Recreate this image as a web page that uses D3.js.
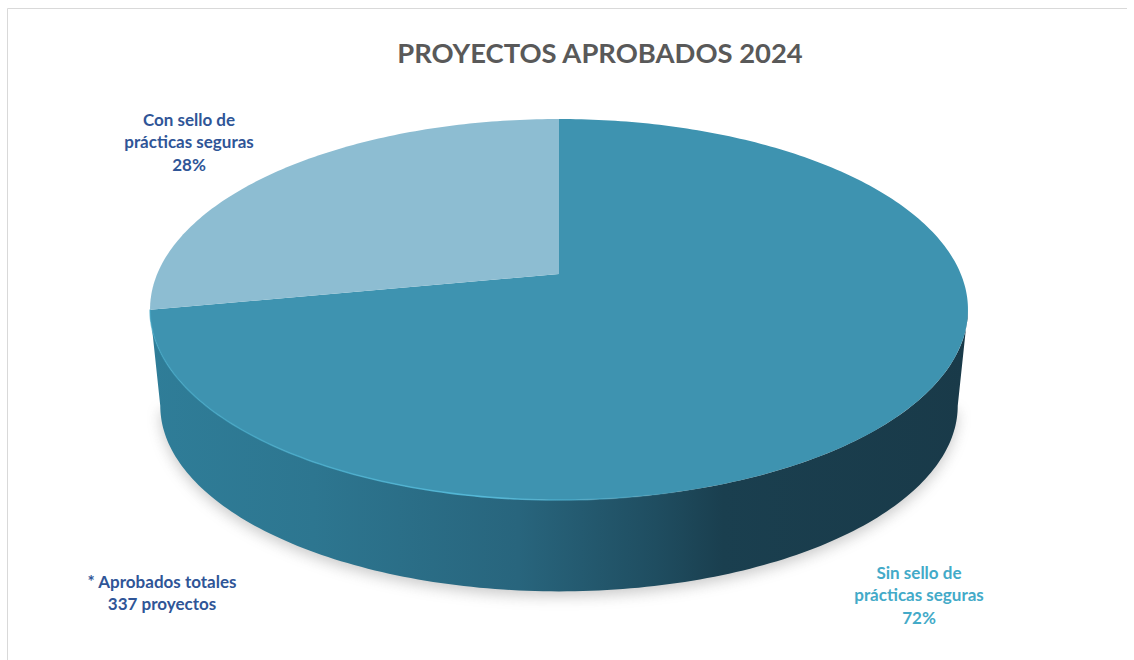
<!DOCTYPE html>
<html>
<head>
<meta charset="utf-8">
<script src="https://cdn.jsdelivr.net/npm/d3@7"></script>
<style>
  html, body { margin: 0; padding: 0; background: #fff; }
  text { font-family: Lato, "Open Sans", sans-serif; font-weight: 700; text-anchor: middle; }
</style>
</head>
<body>
<svg id="chart" width="1134" height="660"></svg>
<script>
var categories = ["Sin sello de prácticas seguras", "Con sello de prácticas seguras"];
var values = [72, 28];
var percentLabels = ["72%", "28%"];
var sliceColors = ["#3e93b0", "#8dbdd2"];
var titleText = "PROYECTOS APROBADOS 2024";
var noteLines = ["* Aprobados totales", "337 proyectos"];

var svg = d3.select("#chart");
var defs = svg.append("defs");

// tilted disc: circle seen in perspective
var cx = 559, vertexY = 274;
var persp = 0.1864, scaleX = 401.8, scaleY = 183.9;
var depth = 97, bottomScale = 0.975;

function project(angle, level) {
    var u = Math.sin(angle), v = -Math.cos(angle);
    var w = 1 / (1 - persp * v);
    var s = level ? bottomScale : 1;
    return [cx + s * scaleX * u * w, vertexY + (level ? depth : 0) + s * scaleY * v * w];
}

function arcPoints(a0, a1, level) {
    var n = Math.max(2, Math.ceil(Math.abs(a1 - a0) * 60));
    return d3.range(n + 1).map(function(i) {
        return project(a0 + (a1 - a0) * i / n, level);
    });
}

var line = d3.line();
var pieData = d3.pie().sort(null)(values);

// page frame
svg.append("path")
    .attr("d", "M7.5,660V8.5H1127")
    .attr("fill", "none")
    .attr("stroke", "#d9d9d9")
    .attr("stroke-width", 1);

// side gradient, shadow, rim
var sideGrad = defs.append("linearGradient")
    .attr("id", "side")
    .attr("gradientUnits", "userSpaceOnUse")
    .attr("x1", 150).attr("x2", 968).attr("y1", 0).attr("y2", 0);
[[0, "#2f7d98"], [0.2, "#2d7690"], [0.45, "#28657d"], [0.62, "#1f4d60"], [0.7, "#1a3f4f"], [1, "#193a49"]]
    .forEach(function(s) {
        sideGrad.append("stop").attr("offset", s[0]).attr("stop-color", s[1]);
    });

var rimGrad = defs.append("linearGradient")
    .attr("id", "rim")
    .attr("gradientUnits", "userSpaceOnUse")
    .attr("x1", 150).attr("x2", 700).attr("y1", 0).attr("y2", 0);
[[0, "#3fa5c4", 0.6], [0.6, "#55bcdc", 0.9], [1, "#55bcdc", 0]].forEach(function(s) {
    rimGrad.append("stop").attr("offset", s[0]).attr("stop-color", s[1]).attr("stop-opacity", s[2]);
});

defs.append("filter")
    .attr("id", "blur")
    .attr("x", "-10%").attr("y", "-10%").attr("width", "120%").attr("height", "120%")
    .append("feGaussianBlur").attr("stdDeviation", 7);

var edgeAngle = Math.acos(-persp);
var bottomArc = arcPoints(edgeAngle, 2 * Math.PI - edgeAngle, 1);

svg.append("path")
    .attr("d", line(bottomArc.map(function(p) { return [p[0], p[1] + 5]; })) + "Z")
    .attr("fill", "#6b6b6b")
    .attr("opacity", 0.35)
    .attr("filter", "url(#blur)");

svg.append("path")
    .attr("d", line(arcPoints(edgeAngle, 2 * Math.PI - edgeAngle, 0).concat(bottomArc.slice().reverse())) + "Z")
    .attr("fill", "url(#side)");

// top face
svg.selectAll("path.slice")
    .data(pieData)
    .enter().append("path")
    .attr("class", "slice")
    .attr("d", function(d) {
        return line([[cx, vertexY]].concat(arcPoints(d.startAngle, d.endAngle, 0))) + "Z";
    })
    .attr("fill", function(d, i) { return sliceColors[i]; });

svg.append("path")
    .attr("d", line(arcPoints(Math.PI * 0.85, 2 * Math.PI - edgeAngle, 0)))
    .attr("fill", "none")
    .attr("stroke", "url(#rim)")
    .attr("stroke-width", 1.6);

// text
svg.append("text")
    .attr("x", 600).attr("y", 63)
    .attr("font-size", 27.4)
    .attr("fill", "#595959")
    .text(titleText);

function block(x, y, lines, color) {
    var t = svg.append("text").attr("font-size", 17).attr("fill", color);
    lines.forEach(function(l, i) {
        t.append("tspan").attr("x", x).attr("y", y + i * 22.3).text(l);
    });
}

block(189, 126, ["Con sello de", "prácticas seguras", percentLabels[1]], "#2f5597");
block(919, 579, ["Sin sello de", "prácticas seguras", percentLabels[0]], "#43aac8");
block(162, 588, noteLines, "#2f5597");
</script>
</body>
</html>
